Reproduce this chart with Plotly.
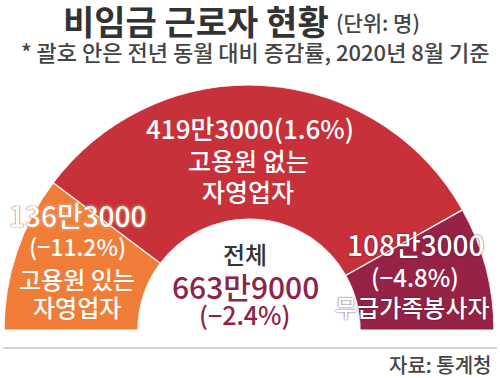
import plotly.graph_objects as go

# ---- data ----
categories = ["고용원 있는<br>자영업자", "고용원 없는<br>자영업자", "무급가족봉사자"]
workers = [1363000, 4193000, 1083000]          # 명
changes = [-11.2, 1.6, -4.8]                   # 전년 동월 대비 증감률 (%)
total_change = -2.4
colors = ["#F07D37", "#C8303A", "#962346"]

title = "비임금 근로자 현황"
unit = "(단위: 명)"
subtitle = "* 괄호 안은 전년 동월 대비 증감률, 2020년 8월 기준"
source = "자료: 통계청"

FONT = "Noto Sans CJK KR"
W, H = 500, 378


def man(v):
    return f"{v // 10000}만{v % 10000:04d}"


def pct(c):
    s = f"{abs(c):.1f}%"
    return f"(−{s})" if c < 0 else f"({s})"


total = sum(workers)
theta, width, cum = [], [], 0
for v in workers:
    theta.append(180 * (cum + v / 2) / total)
    width.append(180 * v / total)
    cum += v

fig = go.Figure()
fig.add_trace(go.Barpolar(
    r=[1] * len(workers), theta=theta, width=width,
    marker=dict(color=colors, line=dict(color="white", width=1.2)),
    hoverinfo="skip", showlegend=False,
))


def px(x):
    return x / W


def py(y):
    return 1 - y / H


fig.update_layout(
    width=W, height=H,
    margin=dict(l=0, r=0, t=0, b=0),
    paper_bgcolor="white",
    polar=dict(
        domain=dict(x=[px(4), px(494)], y=[py(330), py(85)]),
        sector=[0, 180],
        hole=0.453,
        bgcolor="white",
        angularaxis=dict(visible=False, rotation=180, direction="clockwise"),
        radialaxis=dict(visible=False, range=[0, 1]),
    ),
)

ann = []


def txt(x, y, s, size, color="white", weight=500, anchor="center", shadow=None):
    f = dict(family=FONT, size=size, color=color, weight=weight)
    if shadow:
        f["shadow"] = shadow
    ann.append(dict(x=px(x), y=py(y), xref="paper", yref="paper", text=s,
                    showarrow=False, xanchor=anchor, yanchor="middle", font=f))


# title
txt(331, 20, title, 34, "#333333", weight="bold", anchor="right")
txt(334, 22, unit, 21, "#444444", anchor="left")
txt(255, 51, subtitle, 22, "#444444")

# red block (고용원 없는 자영업자)
txt(250, 127, man(workers[1]) + pct(changes[1]), 26)
l1, l2 = categories[1].split("<br>")
txt(248, 160, l1, 25)
txt(248, 191, l2, 25)

# orange block
txt(77, 215, man(workers[0]), 28,
    shadow="0 0 1px #b8561a, 0 0 1px #b8561a, 0 0 3px #fde0c6")
txt(77, 246, pct(changes[0]), 23)
l1, l2 = categories[0].split("<br>")
txt(77, 278, l1, 24)
txt(77, 306, l2, 24)

# maroon block
txt(415, 244, man(workers[2]), 28, shadow="0 0 2px #5a1028")
txt(415, 276, pct(changes[2]), 24)
txt(412, 306, categories[2], 24, shadow="0 0 2px #5a1028")

# center total
txt(245, 253, "전체", 24, "#333333")
txt(245, 286, man(total), 30, "#8E2247")
txt(244, 314, pct(total_change), 25, "#8E2247")

# source
txt(493, 364, source, 20, "#444444", anchor="right")

fig.update_layout(annotations=ann)
fig.add_shape(type="line", xref="paper", yref="paper",
              x0=px(3), x1=px(497), y0=py(348), y1=py(348),
              line=dict(color="#AAAAAA", width=1.2))

fig.write_html("out.html",
               config={"displayModeBar": False},
               post_script="document.body.style.margin='0';"
                           "document.body.style.overflow='hidden';")
